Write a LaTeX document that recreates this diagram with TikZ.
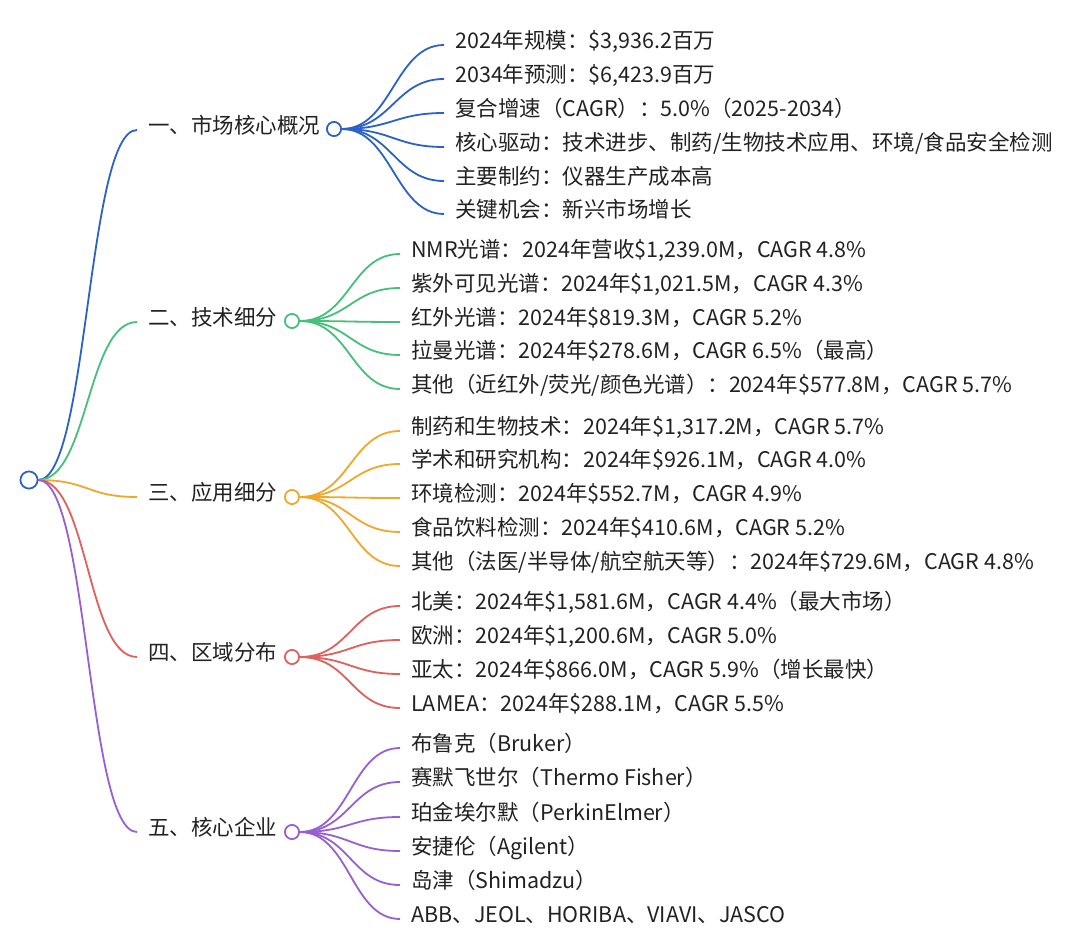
\documentclass[tikz,border=0pt]{standalone}
\usepackage{fontspec}
\setmainfont{Noto Sans CJK SC}
\definecolor{cA}{HTML}{2C62C6}
\definecolor{cB}{HTML}{45C07A}
\definecolor{cC}{HTML}{F0A82A}
\definecolor{cD}{HTML}{E0605C}
\definecolor{cE}{HTML}{9660D2}
\definecolor{txt}{HTML}{222222}
\tikzset{
  lbl/.style={anchor=west, inner sep=0pt, text height=0.88em, text depth=0.12em,
    font=\fontsize{21.5}{25}\selectfont, text=txt},
  dot/.style={circle, draw=#1, fill=white, line width=1.6pt, minimum size=14pt, inner sep=0pt},
  rootdot/.style={dot=#1, minimum size=17pt},
  br/.style={line width=1.8pt},
}
\newcommand{\lone}[3]{% color, from, to-node
  \draw[br,#1] (#2.east) .. controls +(50,0) and ([xshift=-61]#3.west) .. ([xshift=-11]#3.west);}
\newcommand{\ltwo}[3]{%
  \draw[br,#1] (#2.east) .. controls +(50,0) and ([xshift=-60]#3.west) .. ([xshift=-11]#3.west);}
\begin{document}
\begin{tikzpicture}[x=1pt,y=-1pt]
\useasboundingbox[fill=white] (0,0) rectangle (1080,942);

% level 1 labels
\node[lbl] (A) at (148,130) {一、市场核心概况};
\node[lbl] (B) at (148,322) {二、技术细分};
\node[lbl] (C) at (148,497) {三、应用细分};
\node[lbl] (D) at (148,657) {四、区域分布};
\node[lbl] (E) at (148,832) {五、核心企业};

% level 2 labels
\node[lbl] (a1) at (455,45)  {2024年规模：\$3,936.2百万};
\node[lbl] (a2) at (455,79)  {2034年预测：\$6,423.9百万};
\node[lbl] (a3) at (455,113) {复合增速（CAGR）：5.0\%（2025-2034）};
\node[lbl] (a4) at (455,147) {核心驱动：技术进步、制药/生物技术应用、环境/食品安全检测};
\node[lbl] (a5) at (455,181) {主要制约：仪器生产成本高};
\node[lbl] (a6) at (455,214) {关键机会：新兴市场增长};

\node[lbl] (b1) at (411,254) {NMR光谱：2024年营收\$1,239.0M，CAGR 4.8\%};
\node[lbl] (b2) at (411,288) {紫外可见光谱：2024年\$1,021.5M，CAGR 4.3\%};
\node[lbl] (b3) at (411,322) {红外光谱：2024年\$819.3M，CAGR 5.2\%};
\node[lbl] (b4) at (411,355) {拉曼光谱：2024年\$278.6M，CAGR 6.5\%（最高）};
\node[lbl] (b5) at (411,389) {其他（近红外/荧光/颜色光谱）：2024年\$577.8M，CAGR 5.7\%};

\node[lbl] (c1) at (411,431) {制药和生物技术：2024年\$1,317.2M，CAGR 5.7\%};
\node[lbl] (c2) at (411,464) {学术和研究机构：2024年\$926.1M，CAGR 4.0\%};
\node[lbl] (c3) at (411,498) {环境检测：2024年\$552.7M，CAGR 4.9\%};
\node[lbl] (c4) at (411,532) {食品饮料检测：2024年\$410.6M，CAGR 5.2\%};
\node[lbl] (c5) at (411,566) {其他（法医/半导体/航空航天等）：2024年\$729.6M，CAGR 4.8\%};

\node[lbl] (d1) at (411,606) {北美：2024年\$1,581.6M，CAGR 4.4\%（最大市场）};
\node[lbl] (d2) at (411,640) {欧洲：2024年\$1,200.6M，CAGR 5.0\%};
\node[lbl] (d3) at (411,674) {亚太：2024年\$866.0M，CAGR 5.9\%（增长最快）};
\node[lbl] (d4) at (411,708) {LAMEA：2024年\$288.1M，CAGR 5.5\%};

\node[lbl] (e1) at (411,748) {布鲁克（Bruker）};
\node[lbl] (e2) at (411,782) {赛默飞世尔（Thermo Fisher）};
\node[lbl] (e3) at (411,817) {珀金埃尔默（PerkinElmer）};
\node[lbl] (e4) at (411,851) {安捷伦（Agilent）};
\node[lbl] (e5) at (411,885) {岛津（Shimadzu）};
\node[lbl] (e6) at (411,919) {ABB、JEOL、HORIBA、VIAVI、JASCO};

% circle positions
\coordinate (R) at (29,480);
\coordinate (CA) at (334,129);
\coordinate (CB) at (292,321);
\coordinate (CC) at (292,497);
\coordinate (CD) at (292,657);
\coordinate (CE) at (292,832);
\node[rootdot=cA] (root) at (R) {};
\node[dot=cA] (ca) at (CA) {};
\node[dot=cB] (cb) at (CB) {};
\node[dot=cC] (cc) at (CC) {};
\node[dot=cD] (cd) at (CD) {};
\node[dot=cE] (ce) at (CE) {};

% level-1 connectors
\lone{cA}{root}{A}
\lone{cB}{root}{B}
\lone{cC}{root}{C}
\lone{cD}{root}{D}
\lone{cE}{root}{E}

% level-2 connectors
\foreach \n in {a1,a2,a3,a4,a5,a6} {\ltwo{cA}{ca}{\n}}
\foreach \n in {b1,b2,b3,b4,b5} {\ltwo{cB}{cb}{\n}}
\foreach \n in {c1,c2,c3,c4,c5} {\ltwo{cC}{cc}{\n}}
\foreach \n in {d1,d2,d3,d4} {\ltwo{cD}{cd}{\n}}
\foreach \n in {e1,e2,e3,e4,e5,e6} {\ltwo{cE}{ce}{\n}}

% circles on top of connector ends
\node[rootdot=cA] at (R) {};
\node[dot=cA] at (CA) {};
\node[dot=cB] at (CB) {};
\node[dot=cC] at (CC) {};
\node[dot=cD] at (CD) {};
\node[dot=cE] at (CE) {};
\end{tikzpicture}
\end{document}
